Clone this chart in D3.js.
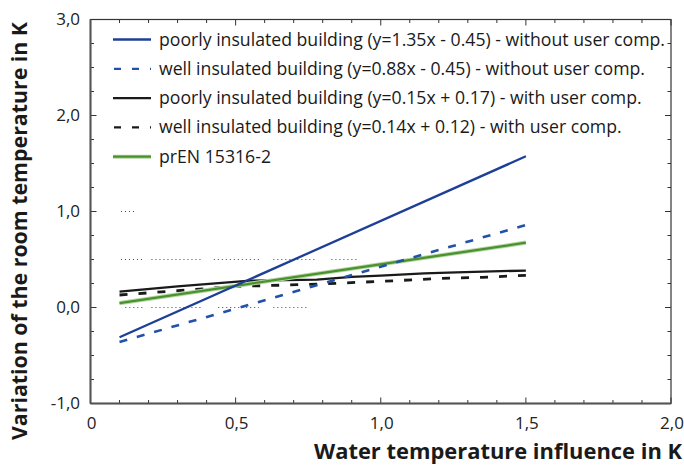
<!DOCTYPE html>
<html><head><meta charset="utf-8">
<script src="https://cdn.jsdelivr.net/npm/d3@7"></script>
<style>
body{margin:0;background:#fff;}
text{font-family:"Open Sans",sans-serif;}
</style></head>
<body><svg id="c" width="684" height="466"></svg>
<script>
// ---- data ----
const seriesNames = [
  "poorly insulated building (y=1.35x - 0.45) - without user comp.",
  "well insulated building (y=0.88x - 0.45) - without user comp.",
  "poorly insulated building (y=0.15x + 0.17) - with user comp.",
  "well insulated building (y=0.14x + 0.12) - with user comp.",
  "prEN 15316-2"
];
const poorlyWithout = [[0.1,-0.31],[1.5,1.575]];
const wellWithout   = [[0.1,-0.36],[1.5,0.86]];
const poorlyWith    = [[0.1,0.165],[0.3,0.22],[0.55,0.28],[0.78,0.29],[0.9,0.32],[1.0,0.333],[1.15,0.355],[1.26,0.366],[1.5,0.385]];
const wellWith      = [[0.1,0.13],[0.3,0.175],[0.5,0.22],[0.75,0.24],[1.0,0.272],[1.2,0.302],[1.35,0.314],[1.5,0.335]];
const prEN          = [[0.1,0.045],[1.5,0.675]];
const dottedRows = [
  {y:1.0, segs:[[0.105,0.15]]},
  {y:0.5, segs:[[0.105,0.178],[0.21,0.38],[0.425,0.58],[0.63,0.78],[0.83,0.918]]},
  {y:0.0, segs:[[0.12,0.18],[0.21,0.38],[0.44,0.58],[0.63,0.75]]}
];
const xTicks = [0,0.5,1.0,1.5,2.0];
const yTicks = [-1,0,1,2,3];
const xLabels = ["0","0,5","1,0","1,5","2,0"];
const yLabels = ["-1,0","0,0","1,0","2,0","3,0"];
const xTitle = "Water temperature influence in K";
const yTitle = "Variation of the room temperature in K";

// ---- layout ----
const svg = d3.select("#c");
const L=90.5, R=671, T=19.5, B=403.5;
const x = d3.scaleLinear().domain([0,2]).range([L,R]);
const y = d3.scaleLinear().domain([-1,3]).range([B,T]);

// dotted fragments
dottedRows.forEach(r=>{
  r.segs.forEach(s=>{
    svg.append("line").attr("x1",x(s[0])).attr("x2",x(s[1])).attr("y1",y(r.y)).attr("y2",y(r.y))
      .attr("stroke","#444").attr("stroke-width",1).attr("stroke-dasharray","1,3");
  });
});

// axes (ticks inward)
const minorX = d3.range(0,2.0001,0.1);
const minorY = d3.range(-1,3.0001,0.25);
const ax = svg.append("g").attr("stroke","#333");
minorX.forEach(v=>{
  const major = Math.abs(v*2-Math.round(v*2))<1e-6;
  const len = major?6:3.5;
  ax.append("line").attr("x1",x(v)).attr("x2",x(v)).attr("y1",B).attr("y2",B-len).attr("stroke-width",1);
  ax.append("line").attr("x1",x(v)).attr("x2",x(v)).attr("y1",T).attr("y2",T+len).attr("stroke-width",1);
});
minorY.forEach(v=>{
  const major = Math.abs(v-Math.round(v))<1e-6;
  const len = major?6:3.5;
  ax.append("line").attr("x1",L).attr("x2",L+len).attr("y1",y(v)).attr("y2",y(v)).attr("stroke-width",1);
  ax.append("line").attr("x1",R).attr("x2",R-len).attr("y1",y(v)).attr("y2",y(v)).attr("stroke-width",1);
});
svg.append("rect").attr("x",L).attr("y",T).attr("width",R-L).attr("height",B-T)
  .attr("fill","none").attr("stroke","#333").attr("stroke-width",1.2);
svg.append("line").attr("x1",L).attr("x2",L).attr("y1",T).attr("y2",B).attr("stroke","#555").attr("stroke-width",2);
svg.append("line").attr("x1",L).attr("x2",R).attr("y1",B).attr("y2",B).attr("stroke","#555").attr("stroke-width",2);

// tick labels
function squeeze(t, w){ t.attr("textLength",w).attr("lengthAdjust","spacingAndGlyphs"); }
xTicks.forEach((v,i)=>{
  svg.append("text").attr("x",x(v)+1).attr("y",429).attr("text-anchor","middle")
    .attr("font-size",17).attr("fill","#222").text(xLabels[i]);
});
yTicks.forEach((v,i)=>{
  svg.append("text").attr("x",80).attr("y",y(v)+5.5).attr("text-anchor","end")
    .attr("font-size",17).attr("fill","#222").text(yLabels[i]);
});

// titles
const xt = svg.append("text").attr("x",682).attr("y",459).attr("text-anchor","end")
  .attr("font-size",22).attr("font-weight","bold").attr("fill","#1a1a1a").text(xTitle);
squeeze(xt,368);
const yt = svg.append("text").attr("transform","translate(27,231) rotate(-90)").attr("text-anchor","middle")
  .attr("font-size",22).attr("font-weight","bold").attr("fill","#1a1a1a").text(yTitle);
squeeze(yt,418);

// series
const line = d3.line().x(d=>x(d[0])).y(d=>y(d[1]));
const styles = [
  {data:poorlyWithout, color:"#1e3f97", dash:null, w:2.3},
  {data:wellWithout, color:"#2151a8", dash:"8,10", w:2.6},
  {data:poorlyWith, color:"#1a1a1a", dash:null, w:2.3},
  {data:wellWith, color:"#1a1a1a", dash:"8,11", w:2.8},
  {data:prEN, color:"#4a9130", dash:null, w:2.3, halo:"#b6d6a2"}
];
const order=[2,3,4,1,0];
order.forEach(i=>{
  const s=styles[i];
  if(s.halo) svg.append("path").attr("d",line(s.data)).attr("fill","none").attr("stroke",s.halo).attr("stroke-width",4.2);
  svg.append("path").attr("d",line(s.data)).attr("fill","none").attr("stroke",s.color)
    .attr("stroke-width",s.w).attr("stroke-dasharray",s.dash);
});

// legend
const lg = svg.append("g");
seriesNames.forEach((n,i)=>{
  const yy = 39.5 + i*29.3;
  const s = styles[i];
  if(s.halo) lg.append("line").attr("x1",113).attr("x2",151).attr("y1",yy).attr("y2",yy).attr("stroke",s.halo).attr("stroke-width",4);
  lg.append("line").attr("x1",s.dash?114:113).attr("x2",151).attr("y1",yy).attr("y2",yy)
    .attr("stroke",s.color).attr("stroke-width",2.3).attr("stroke-dasharray",s.dash?"7,11":null);
  lg.append("text").attr("x",159).attr("y",yy+6).attr("font-size",17.5).attr("fill","#1a1a1a").text(n);
});
const first = lg.select("text").node().getComputedTextLength();
const ratio = 506/first;
lg.selectAll("text").each(function(){
  const w = this.getComputedTextLength();
  d3.select(this).attr("textLength", w*ratio).attr("lengthAdjust","spacingAndGlyphs");
});
</script></body></html>
